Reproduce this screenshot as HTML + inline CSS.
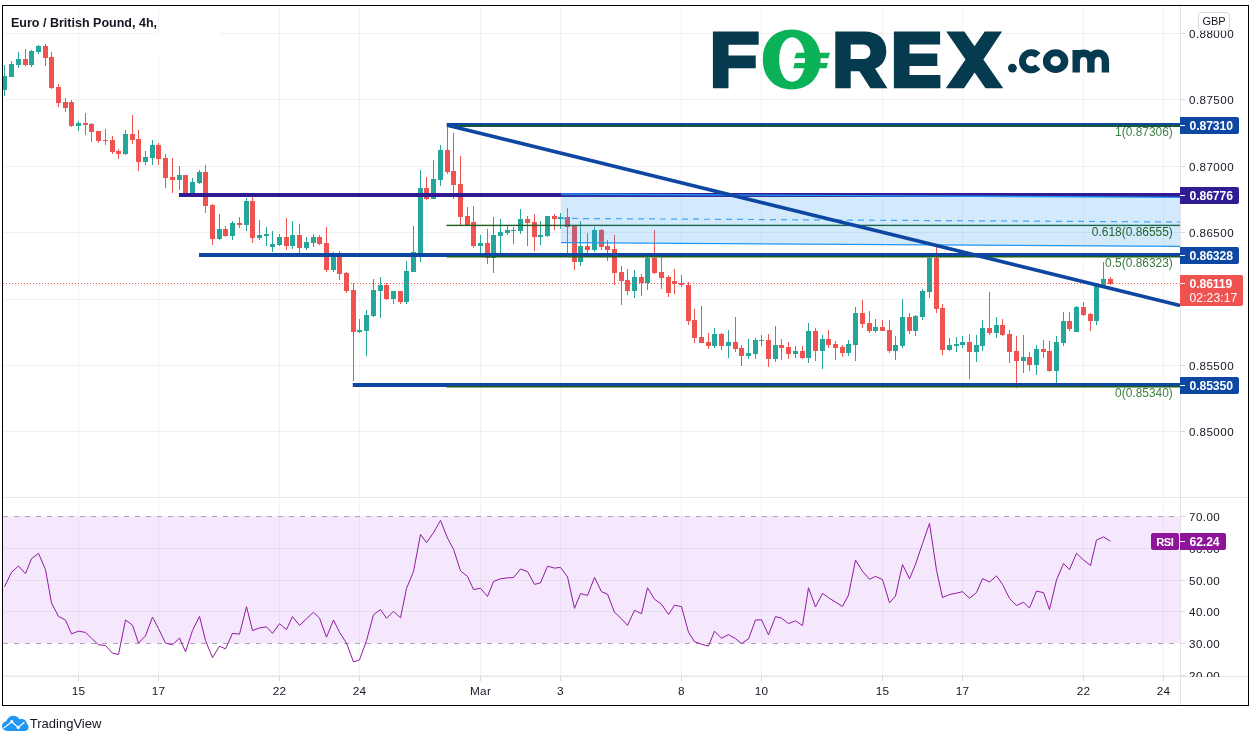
<!DOCTYPE html>
<html><head><meta charset="utf-8"><title>EUR/GBP</title>
<style>
html,body{margin:0;padding:0;background:#fff;}
body{width:1255px;height:742px;position:relative;overflow:hidden;font-family:"Liberation Sans",sans-serif;color:#131722;}
svg{position:absolute;left:0;top:0;}
#txt{position:absolute;left:0;top:0;width:1255px;height:742px;will-change:transform;}
.frame{position:absolute;left:2px;top:5px;width:1245px;height:699px;border:1px solid #000;box-sizing:content-box;}
.t{position:absolute;white-space:nowrap;line-height:1;}
.ax{position:absolute;left:1189px;font-size:11.6px;letter-spacing:0.45px;line-height:12px;color:#131722;white-space:nowrap;}
.dt{position:absolute;top:684.5px;font-size:11.8px;letter-spacing:0.3px;line-height:12px;width:40px;margin-left:-20px;text-align:center;color:#131722;}
.pl{position:absolute;left:1180px;width:59px;height:17px;border-radius:0 2px 2px 0;color:#fff;font-weight:bold;font-size:12.2px;letter-spacing:-0.1px;line-height:17px;box-sizing:border-box;padding-left:9.5px;padding-top:1.3px;white-space:nowrap;overflow:hidden;}
.pl i{position:absolute;left:0;top:8px;width:5px;height:1px;background:#fff;}
.fib{position:absolute;right:82.2px;font-size:11.95px;line-height:12px;white-space:nowrap;}
</style></head><body>
<svg width="1255" height="742" viewBox="0 0 1255 742" shape-rendering="auto">
<rect x="78" y="6" width="1" height="491" fill="rgba(10,10,30,0.05)"/>
<rect x="158" y="6" width="1" height="491" fill="rgba(10,10,30,0.05)"/>
<rect x="279" y="6" width="1" height="491" fill="rgba(10,10,30,0.05)"/>
<rect x="359" y="6" width="1" height="491" fill="rgba(10,10,30,0.05)"/>
<rect x="480" y="6" width="1" height="491" fill="rgba(10,10,30,0.05)"/>
<rect x="560" y="6" width="1" height="491" fill="rgba(10,10,30,0.05)"/>
<rect x="681" y="6" width="1" height="491" fill="rgba(10,10,30,0.05)"/>
<rect x="761" y="6" width="1" height="491" fill="rgba(10,10,30,0.05)"/>
<rect x="882" y="6" width="1" height="491" fill="rgba(10,10,30,0.05)"/>
<rect x="962" y="6" width="1" height="491" fill="rgba(10,10,30,0.05)"/>
<rect x="1083" y="6" width="1" height="491" fill="rgba(10,10,30,0.05)"/>
<rect x="1163" y="6" width="1" height="491" fill="rgba(10,10,30,0.05)"/>
<rect x="3" y="33" width="1177" height="1" fill="rgba(10,10,30,0.06)"/>
<rect x="3" y="99" width="1177" height="1" fill="rgba(10,10,30,0.06)"/>
<rect x="3" y="166" width="1177" height="1" fill="rgba(10,10,30,0.06)"/>
<rect x="3" y="232" width="1177" height="1" fill="rgba(10,10,30,0.06)"/>
<rect x="3" y="299" width="1177" height="1" fill="rgba(10,10,30,0.06)"/>
<rect x="3" y="365" width="1177" height="1" fill="rgba(10,10,30,0.06)"/>
<rect x="3" y="431" width="1177" height="1" fill="rgba(10,10,30,0.06)"/>
<rect x="157" y="33" width="64" height="23" fill="#fff"/>
<rect x="3" y="516.4" width="1177" height="126.8" fill="#f5e8fd"/>
<rect x="3" y="548" width="1177" height="1" fill="rgba(10,10,30,0.06)"/>
<rect x="3" y="580" width="1177" height="1" fill="rgba(10,10,30,0.06)"/>
<rect x="3" y="611" width="1177" height="1" fill="rgba(10,10,30,0.06)"/>
<rect x="3" y="675" width="1177" height="1" fill="rgba(10,10,30,0.06)"/>
<rect x="78" y="498" width="1" height="178" fill="rgba(10,10,30,0.05)"/>
<rect x="158" y="498" width="1" height="178" fill="rgba(10,10,30,0.05)"/>
<rect x="279" y="498" width="1" height="178" fill="rgba(10,10,30,0.05)"/>
<rect x="359" y="498" width="1" height="178" fill="rgba(10,10,30,0.05)"/>
<rect x="480" y="498" width="1" height="178" fill="rgba(10,10,30,0.05)"/>
<rect x="560" y="498" width="1" height="178" fill="rgba(10,10,30,0.05)"/>
<rect x="681" y="498" width="1" height="178" fill="rgba(10,10,30,0.05)"/>
<rect x="761" y="498" width="1" height="178" fill="rgba(10,10,30,0.05)"/>
<rect x="882" y="498" width="1" height="178" fill="rgba(10,10,30,0.05)"/>
<rect x="962" y="498" width="1" height="178" fill="rgba(10,10,30,0.05)"/>
<rect x="1083" y="498" width="1" height="178" fill="rgba(10,10,30,0.05)"/>
<rect x="1163" y="498" width="1" height="178" fill="rgba(10,10,30,0.05)"/>
<line x1="3" y1="516.5" x2="1180" y2="516.5" stroke="#a9a3b3" stroke-width="1" stroke-dasharray="5 6"/>
<line x1="3" y1="643.5" x2="1180" y2="643.5" stroke="#a9a3b3" stroke-width="1" stroke-dasharray="5 6"/>
<rect x="3" y="497" width="1245" height="1" fill="#e6e7eb"/>
<rect x="3" y="676" width="1245" height="1" fill="#e6e7eb"/>
<rect x="1180" y="6" width="1" height="699" fill="#e2e3e8"/>
<rect x="78" y="677" width="1" height="4" fill="#d5d8df"/>
<rect x="158" y="677" width="1" height="4" fill="#d5d8df"/>
<rect x="279" y="677" width="1" height="4" fill="#d5d8df"/>
<rect x="359" y="677" width="1" height="4" fill="#d5d8df"/>
<rect x="480" y="677" width="1" height="4" fill="#d5d8df"/>
<rect x="560" y="677" width="1" height="4" fill="#d5d8df"/>
<rect x="681" y="677" width="1" height="4" fill="#d5d8df"/>
<rect x="761" y="677" width="1" height="4" fill="#d5d8df"/>
<rect x="882" y="677" width="1" height="4" fill="#d5d8df"/>
<rect x="962" y="677" width="1" height="4" fill="#d5d8df"/>
<rect x="1083" y="677" width="1" height="4" fill="#d5d8df"/>
<rect x="1163" y="677" width="1" height="4" fill="#d5d8df"/>
<rect x="1181" y="33" width="4" height="1" fill="#d5d8df"/>
<rect x="1181" y="99" width="4" height="1" fill="#d5d8df"/>
<rect x="1181" y="166" width="4" height="1" fill="#d5d8df"/>
<rect x="1181" y="232" width="4" height="1" fill="#d5d8df"/>
<rect x="1181" y="299" width="4" height="1" fill="#d5d8df"/>
<rect x="1181" y="365" width="4" height="1" fill="#d5d8df"/>
<rect x="1181" y="431" width="4" height="1" fill="#d5d8df"/>
<rect x="1181" y="516" width="4" height="1" fill="#d5d8df"/>
<rect x="1181" y="548" width="4" height="1" fill="#d5d8df"/>
<rect x="1181" y="580" width="4" height="1" fill="#d5d8df"/>
<rect x="1181" y="611" width="4" height="1" fill="#d5d8df"/>
<rect x="1181" y="643" width="4" height="1" fill="#d5d8df"/>
<rect x="1181" y="675" width="4" height="1" fill="#d5d8df"/>
<rect x="4" y="65" width="1" height="31" fill="#26a69a"/>
<rect x="2" y="76" width="5" height="14" fill="#26a69a"/>
<rect x="11" y="61" width="1" height="16" fill="#26a69a"/>
<rect x="9" y="64" width="5" height="13" fill="#26a69a"/>
<rect x="18" y="52" width="1" height="16" fill="#26a69a"/>
<rect x="16" y="59" width="5" height="6" fill="#26a69a"/>
<rect x="25" y="49" width="1" height="17" fill="#ef5350"/>
<rect x="23" y="59" width="5" height="6" fill="#ef5350"/>
<rect x="31" y="50" width="1" height="17" fill="#26a69a"/>
<rect x="29" y="51" width="5" height="14" fill="#26a69a"/>
<rect x="38" y="45" width="1" height="9" fill="#26a69a"/>
<rect x="36" y="46" width="5" height="6" fill="#26a69a"/>
<rect x="45" y="44" width="1" height="22" fill="#ef5350"/>
<rect x="43" y="46" width="5" height="12" fill="#ef5350"/>
<rect x="51" y="52" width="1" height="37" fill="#ef5350"/>
<rect x="49" y="57" width="5" height="31" fill="#ef5350"/>
<rect x="58" y="84" width="1" height="23" fill="#ef5350"/>
<rect x="56" y="87" width="5" height="16" fill="#ef5350"/>
<rect x="65" y="98" width="1" height="14" fill="#ef5350"/>
<rect x="63" y="102" width="5" height="6" fill="#ef5350"/>
<rect x="71" y="100" width="1" height="27" fill="#ef5350"/>
<rect x="69" y="102" width="5" height="24" fill="#ef5350"/>
<rect x="78" y="121" width="1" height="10" fill="#26a69a"/>
<rect x="76" y="123" width="5" height="3" fill="#26a69a"/>
<rect x="85" y="113" width="1" height="22" fill="#ef5350"/>
<rect x="83" y="123" width="5" height="2" fill="#ef5350"/>
<rect x="91" y="123" width="1" height="19" fill="#ef5350"/>
<rect x="89" y="124" width="5" height="8" fill="#ef5350"/>
<rect x="98" y="131" width="1" height="12" fill="#ef5350"/>
<rect x="96" y="131" width="5" height="10" fill="#ef5350"/>
<rect x="105" y="129" width="1" height="16" fill="#ef5350"/>
<rect x="103" y="140" width="5" height="1" fill="#ef5350"/>
<rect x="112" y="136" width="1" height="18" fill="#ef5350"/>
<rect x="110" y="140" width="5" height="12" fill="#ef5350"/>
<rect x="118" y="149" width="1" height="10" fill="#ef5350"/>
<rect x="116" y="151" width="5" height="3" fill="#ef5350"/>
<rect x="125" y="130" width="1" height="25" fill="#26a69a"/>
<rect x="123" y="134" width="5" height="20" fill="#26a69a"/>
<rect x="132" y="115" width="1" height="29" fill="#ef5350"/>
<rect x="130" y="134" width="5" height="6" fill="#ef5350"/>
<rect x="138" y="130" width="1" height="41" fill="#ef5350"/>
<rect x="136" y="139" width="5" height="23" fill="#ef5350"/>
<rect x="145" y="151" width="1" height="14" fill="#26a69a"/>
<rect x="143" y="157" width="5" height="5" fill="#26a69a"/>
<rect x="152" y="140" width="1" height="25" fill="#26a69a"/>
<rect x="150" y="145" width="5" height="13" fill="#26a69a"/>
<rect x="158" y="143" width="1" height="22" fill="#ef5350"/>
<rect x="156" y="145" width="5" height="14" fill="#ef5350"/>
<rect x="165" y="154" width="1" height="34" fill="#ef5350"/>
<rect x="163" y="158" width="5" height="20" fill="#ef5350"/>
<rect x="172" y="158" width="1" height="35" fill="#ef5350"/>
<rect x="170" y="177" width="5" height="3" fill="#ef5350"/>
<rect x="179" y="166" width="1" height="24" fill="#26a69a"/>
<rect x="177" y="175" width="5" height="5" fill="#26a69a"/>
<rect x="185" y="175" width="1" height="20" fill="#ef5350"/>
<rect x="183" y="175" width="5" height="20" fill="#ef5350"/>
<rect x="192" y="178" width="1" height="17" fill="#26a69a"/>
<rect x="190" y="182" width="5" height="13" fill="#26a69a"/>
<rect x="199" y="170" width="1" height="14" fill="#26a69a"/>
<rect x="197" y="172" width="5" height="11" fill="#26a69a"/>
<rect x="205" y="165" width="1" height="48" fill="#ef5350"/>
<rect x="203" y="172" width="5" height="34" fill="#ef5350"/>
<rect x="212" y="204" width="1" height="41" fill="#ef5350"/>
<rect x="210" y="205" width="5" height="34" fill="#ef5350"/>
<rect x="219" y="214" width="1" height="26" fill="#26a69a"/>
<rect x="217" y="229" width="5" height="10" fill="#26a69a"/>
<rect x="225" y="226" width="1" height="11" fill="#ef5350"/>
<rect x="223" y="229" width="5" height="7" fill="#ef5350"/>
<rect x="232" y="221" width="1" height="19" fill="#26a69a"/>
<rect x="230" y="223" width="5" height="13" fill="#26a69a"/>
<rect x="239" y="217" width="1" height="11" fill="#ef5350"/>
<rect x="237" y="223" width="5" height="2" fill="#ef5350"/>
<rect x="246" y="198" width="1" height="33" fill="#26a69a"/>
<rect x="244" y="201" width="5" height="24" fill="#26a69a"/>
<rect x="252" y="197" width="1" height="46" fill="#ef5350"/>
<rect x="250" y="201" width="5" height="37" fill="#ef5350"/>
<rect x="259" y="220" width="1" height="20" fill="#26a69a"/>
<rect x="257" y="235" width="5" height="3" fill="#26a69a"/>
<rect x="266" y="227" width="1" height="19" fill="#26a69a"/>
<rect x="264" y="234" width="5" height="2" fill="#26a69a"/>
<rect x="272" y="231" width="1" height="21" fill="#26a69a"/>
<rect x="270" y="244" width="5" height="3" fill="#26a69a"/>
<rect x="279" y="234" width="1" height="12" fill="#26a69a"/>
<rect x="277" y="237" width="5" height="8" fill="#26a69a"/>
<rect x="286" y="218" width="1" height="32" fill="#ef5350"/>
<rect x="284" y="237" width="5" height="9" fill="#ef5350"/>
<rect x="292" y="221" width="1" height="28" fill="#26a69a"/>
<rect x="290" y="235" width="5" height="11" fill="#26a69a"/>
<rect x="299" y="224" width="1" height="29" fill="#ef5350"/>
<rect x="297" y="235" width="5" height="13" fill="#ef5350"/>
<rect x="306" y="237" width="1" height="13" fill="#26a69a"/>
<rect x="304" y="242" width="5" height="6" fill="#26a69a"/>
<rect x="313" y="234" width="1" height="13" fill="#26a69a"/>
<rect x="311" y="237" width="5" height="6" fill="#26a69a"/>
<rect x="319" y="235" width="1" height="10" fill="#ef5350"/>
<rect x="317" y="237" width="5" height="7" fill="#ef5350"/>
<rect x="326" y="227" width="1" height="45" fill="#ef5350"/>
<rect x="324" y="243" width="5" height="27" fill="#ef5350"/>
<rect x="333" y="252" width="1" height="20" fill="#26a69a"/>
<rect x="331" y="255" width="5" height="15" fill="#26a69a"/>
<rect x="339" y="251" width="1" height="29" fill="#ef5350"/>
<rect x="337" y="255" width="5" height="19" fill="#ef5350"/>
<rect x="346" y="272" width="1" height="21" fill="#ef5350"/>
<rect x="344" y="273" width="5" height="18" fill="#ef5350"/>
<rect x="353" y="283" width="1" height="98" fill="#ef5350"/>
<rect x="351" y="290" width="5" height="42" fill="#ef5350"/>
<rect x="359" y="319" width="1" height="14" fill="#26a69a"/>
<rect x="357" y="330" width="5" height="2" fill="#26a69a"/>
<rect x="366" y="310" width="1" height="46" fill="#26a69a"/>
<rect x="364" y="315" width="5" height="16" fill="#26a69a"/>
<rect x="373" y="279" width="1" height="38" fill="#26a69a"/>
<rect x="371" y="290" width="5" height="26" fill="#26a69a"/>
<rect x="380" y="277" width="1" height="41" fill="#26a69a"/>
<rect x="378" y="285" width="5" height="6" fill="#26a69a"/>
<rect x="386" y="283" width="1" height="17" fill="#ef5350"/>
<rect x="384" y="285" width="5" height="14" fill="#ef5350"/>
<rect x="393" y="291" width="1" height="13" fill="#26a69a"/>
<rect x="391" y="291" width="5" height="8" fill="#26a69a"/>
<rect x="400" y="291" width="1" height="13" fill="#ef5350"/>
<rect x="398" y="291" width="5" height="11" fill="#ef5350"/>
<rect x="406" y="261" width="1" height="43" fill="#26a69a"/>
<rect x="404" y="271" width="5" height="31" fill="#26a69a"/>
<rect x="413" y="226" width="1" height="46" fill="#26a69a"/>
<rect x="411" y="252" width="5" height="20" fill="#26a69a"/>
<rect x="420" y="170" width="1" height="92" fill="#26a69a"/>
<rect x="418" y="188" width="5" height="67" fill="#26a69a"/>
<rect x="426" y="177" width="1" height="23" fill="#ef5350"/>
<rect x="424" y="188" width="5" height="11" fill="#ef5350"/>
<rect x="433" y="160" width="1" height="39" fill="#26a69a"/>
<rect x="431" y="179" width="5" height="20" fill="#26a69a"/>
<rect x="440" y="145" width="1" height="41" fill="#26a69a"/>
<rect x="438" y="150" width="5" height="30" fill="#26a69a"/>
<rect x="447" y="126" width="1" height="48" fill="#ef5350"/>
<rect x="445" y="150" width="5" height="22" fill="#ef5350"/>
<rect x="453" y="133" width="1" height="66" fill="#ef5350"/>
<rect x="451" y="171" width="5" height="14" fill="#ef5350"/>
<rect x="460" y="156" width="1" height="69" fill="#ef5350"/>
<rect x="458" y="184" width="5" height="33" fill="#ef5350"/>
<rect x="467" y="207" width="1" height="18" fill="#ef5350"/>
<rect x="465" y="216" width="5" height="9" fill="#ef5350"/>
<rect x="473" y="206" width="1" height="42" fill="#ef5350"/>
<rect x="471" y="222" width="5" height="24" fill="#ef5350"/>
<rect x="480" y="235" width="1" height="18" fill="#26a69a"/>
<rect x="478" y="243" width="5" height="3" fill="#26a69a"/>
<rect x="487" y="229" width="1" height="35" fill="#ef5350"/>
<rect x="485" y="243" width="5" height="15" fill="#ef5350"/>
<rect x="493" y="217" width="1" height="56" fill="#26a69a"/>
<rect x="491" y="235" width="5" height="23" fill="#26a69a"/>
<rect x="500" y="219" width="1" height="34" fill="#26a69a"/>
<rect x="498" y="232" width="5" height="4" fill="#26a69a"/>
<rect x="507" y="226" width="1" height="9" fill="#26a69a"/>
<rect x="505" y="230" width="5" height="3" fill="#26a69a"/>
<rect x="513" y="227" width="1" height="17" fill="#26a69a"/>
<rect x="511" y="230" width="5" height="1" fill="#26a69a"/>
<rect x="520" y="209" width="1" height="25" fill="#26a69a"/>
<rect x="518" y="219" width="5" height="12" fill="#26a69a"/>
<rect x="527" y="216" width="1" height="30" fill="#ef5350"/>
<rect x="525" y="219" width="5" height="4" fill="#ef5350"/>
<rect x="534" y="214" width="1" height="37" fill="#ef5350"/>
<rect x="532" y="222" width="5" height="15" fill="#ef5350"/>
<rect x="540" y="221" width="1" height="24" fill="#26a69a"/>
<rect x="538" y="235" width="5" height="2" fill="#26a69a"/>
<rect x="547" y="216" width="1" height="21" fill="#26a69a"/>
<rect x="545" y="216" width="5" height="20" fill="#26a69a"/>
<rect x="554" y="214" width="1" height="16" fill="#ef5350"/>
<rect x="552" y="216" width="5" height="3" fill="#ef5350"/>
<rect x="560" y="213" width="1" height="16" fill="#26a69a"/>
<rect x="558" y="217" width="5" height="2" fill="#26a69a"/>
<rect x="567" y="208" width="1" height="45" fill="#ef5350"/>
<rect x="565" y="217" width="5" height="10" fill="#ef5350"/>
<rect x="574" y="226" width="1" height="44" fill="#ef5350"/>
<rect x="572" y="226" width="5" height="36" fill="#ef5350"/>
<rect x="580" y="221" width="1" height="45" fill="#26a69a"/>
<rect x="578" y="246" width="5" height="16" fill="#26a69a"/>
<rect x="587" y="233" width="1" height="20" fill="#ef5350"/>
<rect x="585" y="246" width="5" height="4" fill="#ef5350"/>
<rect x="594" y="227" width="1" height="25" fill="#26a69a"/>
<rect x="592" y="230" width="5" height="20" fill="#26a69a"/>
<rect x="601" y="229" width="1" height="21" fill="#ef5350"/>
<rect x="599" y="230" width="5" height="17" fill="#ef5350"/>
<rect x="607" y="240" width="1" height="21" fill="#ef5350"/>
<rect x="605" y="246" width="5" height="4" fill="#ef5350"/>
<rect x="614" y="235" width="1" height="50" fill="#ef5350"/>
<rect x="612" y="249" width="5" height="24" fill="#ef5350"/>
<rect x="621" y="266" width="1" height="39" fill="#ef5350"/>
<rect x="619" y="272" width="5" height="9" fill="#ef5350"/>
<rect x="627" y="269" width="1" height="26" fill="#ef5350"/>
<rect x="625" y="280" width="5" height="11" fill="#ef5350"/>
<rect x="634" y="270" width="1" height="28" fill="#26a69a"/>
<rect x="632" y="277" width="5" height="14" fill="#26a69a"/>
<rect x="641" y="274" width="1" height="22" fill="#ef5350"/>
<rect x="639" y="277" width="5" height="6" fill="#ef5350"/>
<rect x="647" y="257" width="1" height="33" fill="#26a69a"/>
<rect x="645" y="258" width="5" height="25" fill="#26a69a"/>
<rect x="654" y="230" width="1" height="44" fill="#ef5350"/>
<rect x="652" y="258" width="5" height="15" fill="#ef5350"/>
<rect x="661" y="257" width="1" height="32" fill="#ef5350"/>
<rect x="659" y="272" width="5" height="6" fill="#ef5350"/>
<rect x="668" y="275" width="1" height="22" fill="#ef5350"/>
<rect x="666" y="277" width="5" height="16" fill="#ef5350"/>
<rect x="674" y="269" width="1" height="25" fill="#ef5350"/>
<rect x="672" y="281" width="5" height="3" fill="#ef5350"/>
<rect x="681" y="275" width="1" height="12" fill="#ef5350"/>
<rect x="679" y="283" width="5" height="2" fill="#ef5350"/>
<rect x="688" y="282" width="1" height="43" fill="#ef5350"/>
<rect x="686" y="285" width="5" height="36" fill="#ef5350"/>
<rect x="694" y="309" width="1" height="34" fill="#ef5350"/>
<rect x="692" y="320" width="5" height="18" fill="#ef5350"/>
<rect x="701" y="306" width="1" height="37" fill="#ef5350"/>
<rect x="699" y="337" width="5" height="6" fill="#ef5350"/>
<rect x="708" y="333" width="1" height="16" fill="#ef5350"/>
<rect x="706" y="342" width="5" height="4" fill="#ef5350"/>
<rect x="714" y="328" width="1" height="20" fill="#26a69a"/>
<rect x="712" y="334" width="5" height="12" fill="#26a69a"/>
<rect x="721" y="333" width="1" height="17" fill="#ef5350"/>
<rect x="719" y="334" width="5" height="12" fill="#ef5350"/>
<rect x="728" y="330" width="1" height="28" fill="#26a69a"/>
<rect x="726" y="342" width="5" height="4" fill="#26a69a"/>
<rect x="735" y="317" width="1" height="35" fill="#ef5350"/>
<rect x="733" y="342" width="5" height="7" fill="#ef5350"/>
<rect x="741" y="345" width="1" height="21" fill="#ef5350"/>
<rect x="739" y="348" width="5" height="8" fill="#ef5350"/>
<rect x="748" y="339" width="1" height="20" fill="#26a69a"/>
<rect x="746" y="353" width="5" height="3" fill="#26a69a"/>
<rect x="755" y="338" width="1" height="21" fill="#26a69a"/>
<rect x="753" y="340" width="5" height="14" fill="#26a69a"/>
<rect x="761" y="335" width="1" height="11" fill="#26a69a"/>
<rect x="759" y="340" width="5" height="1" fill="#26a69a"/>
<rect x="768" y="334" width="1" height="33" fill="#ef5350"/>
<rect x="766" y="340" width="5" height="19" fill="#ef5350"/>
<rect x="775" y="326" width="1" height="36" fill="#26a69a"/>
<rect x="773" y="345" width="5" height="14" fill="#26a69a"/>
<rect x="781" y="339" width="1" height="21" fill="#ef5350"/>
<rect x="779" y="345" width="5" height="3" fill="#ef5350"/>
<rect x="788" y="342" width="1" height="17" fill="#ef5350"/>
<rect x="786" y="347" width="5" height="7" fill="#ef5350"/>
<rect x="795" y="346" width="1" height="12" fill="#26a69a"/>
<rect x="793" y="351" width="5" height="3" fill="#26a69a"/>
<rect x="802" y="346" width="1" height="13" fill="#ef5350"/>
<rect x="800" y="351" width="5" height="7" fill="#ef5350"/>
<rect x="808" y="323" width="1" height="40" fill="#26a69a"/>
<rect x="806" y="331" width="5" height="27" fill="#26a69a"/>
<rect x="815" y="328" width="1" height="33" fill="#ef5350"/>
<rect x="813" y="331" width="5" height="20" fill="#ef5350"/>
<rect x="822" y="335" width="1" height="34" fill="#26a69a"/>
<rect x="820" y="339" width="5" height="12" fill="#26a69a"/>
<rect x="828" y="330" width="1" height="18" fill="#ef5350"/>
<rect x="826" y="339" width="5" height="6" fill="#ef5350"/>
<rect x="835" y="341" width="1" height="19" fill="#ef5350"/>
<rect x="833" y="344" width="5" height="4" fill="#ef5350"/>
<rect x="842" y="345" width="1" height="12" fill="#ef5350"/>
<rect x="840" y="347" width="5" height="6" fill="#ef5350"/>
<rect x="848" y="340" width="1" height="16" fill="#26a69a"/>
<rect x="846" y="344" width="5" height="9" fill="#26a69a"/>
<rect x="855" y="307" width="1" height="54" fill="#26a69a"/>
<rect x="853" y="313" width="5" height="32" fill="#26a69a"/>
<rect x="862" y="300" width="1" height="28" fill="#ef5350"/>
<rect x="860" y="313" width="5" height="11" fill="#ef5350"/>
<rect x="869" y="311" width="1" height="22" fill="#ef5350"/>
<rect x="867" y="323" width="5" height="8" fill="#ef5350"/>
<rect x="875" y="319" width="1" height="14" fill="#26a69a"/>
<rect x="873" y="327" width="5" height="4" fill="#26a69a"/>
<rect x="882" y="320" width="1" height="11" fill="#ef5350"/>
<rect x="880" y="327" width="5" height="4" fill="#ef5350"/>
<rect x="889" y="320" width="1" height="33" fill="#ef5350"/>
<rect x="887" y="330" width="5" height="21" fill="#ef5350"/>
<rect x="895" y="336" width="1" height="24" fill="#26a69a"/>
<rect x="893" y="345" width="5" height="6" fill="#26a69a"/>
<rect x="902" y="299" width="1" height="49" fill="#26a69a"/>
<rect x="900" y="317" width="5" height="29" fill="#26a69a"/>
<rect x="909" y="313" width="1" height="21" fill="#ef5350"/>
<rect x="907" y="317" width="5" height="14" fill="#ef5350"/>
<rect x="915" y="315" width="1" height="21" fill="#26a69a"/>
<rect x="913" y="316" width="5" height="15" fill="#26a69a"/>
<rect x="922" y="289" width="1" height="31" fill="#26a69a"/>
<rect x="920" y="291" width="5" height="26" fill="#26a69a"/>
<rect x="929" y="257" width="1" height="41" fill="#26a69a"/>
<rect x="927" y="258" width="5" height="34" fill="#26a69a"/>
<rect x="936" y="247" width="1" height="66" fill="#ef5350"/>
<rect x="934" y="258" width="5" height="51" fill="#ef5350"/>
<rect x="942" y="304" width="1" height="51" fill="#ef5350"/>
<rect x="940" y="308" width="5" height="42" fill="#ef5350"/>
<rect x="949" y="338" width="1" height="13" fill="#26a69a"/>
<rect x="947" y="345" width="5" height="5" fill="#26a69a"/>
<rect x="956" y="337" width="1" height="15" fill="#26a69a"/>
<rect x="954" y="344" width="5" height="2" fill="#26a69a"/>
<rect x="962" y="336" width="1" height="12" fill="#26a69a"/>
<rect x="960" y="342" width="5" height="3" fill="#26a69a"/>
<rect x="969" y="334" width="1" height="45" fill="#ef5350"/>
<rect x="967" y="342" width="5" height="10" fill="#ef5350"/>
<rect x="976" y="335" width="1" height="27" fill="#26a69a"/>
<rect x="974" y="345" width="5" height="7" fill="#26a69a"/>
<rect x="982" y="320" width="1" height="31" fill="#26a69a"/>
<rect x="980" y="328" width="5" height="18" fill="#26a69a"/>
<rect x="989" y="292" width="1" height="43" fill="#ef5350"/>
<rect x="987" y="328" width="5" height="5" fill="#ef5350"/>
<rect x="996" y="317" width="1" height="21" fill="#26a69a"/>
<rect x="994" y="325" width="5" height="8" fill="#26a69a"/>
<rect x="1002" y="319" width="1" height="17" fill="#ef5350"/>
<rect x="1000" y="325" width="5" height="10" fill="#ef5350"/>
<rect x="1009" y="330" width="1" height="33" fill="#ef5350"/>
<rect x="1007" y="334" width="5" height="18" fill="#ef5350"/>
<rect x="1016" y="336" width="1" height="52" fill="#ef5350"/>
<rect x="1014" y="351" width="5" height="10" fill="#ef5350"/>
<rect x="1023" y="335" width="1" height="38" fill="#26a69a"/>
<rect x="1021" y="357" width="5" height="4" fill="#26a69a"/>
<rect x="1029" y="352" width="1" height="19" fill="#ef5350"/>
<rect x="1027" y="357" width="5" height="8" fill="#ef5350"/>
<rect x="1036" y="345" width="1" height="30" fill="#26a69a"/>
<rect x="1034" y="349" width="5" height="16" fill="#26a69a"/>
<rect x="1043" y="340" width="1" height="18" fill="#ef5350"/>
<rect x="1041" y="349" width="5" height="3" fill="#ef5350"/>
<rect x="1049" y="341" width="1" height="31" fill="#ef5350"/>
<rect x="1047" y="351" width="5" height="20" fill="#ef5350"/>
<rect x="1056" y="336" width="1" height="47" fill="#26a69a"/>
<rect x="1054" y="342" width="5" height="29" fill="#26a69a"/>
<rect x="1063" y="312" width="1" height="34" fill="#26a69a"/>
<rect x="1061" y="321" width="5" height="22" fill="#26a69a"/>
<rect x="1069" y="312" width="1" height="19" fill="#ef5350"/>
<rect x="1067" y="321" width="5" height="8" fill="#ef5350"/>
<rect x="1076" y="306" width="1" height="26" fill="#26a69a"/>
<rect x="1074" y="307" width="5" height="25" fill="#26a69a"/>
<rect x="1083" y="302" width="1" height="14" fill="#ef5350"/>
<rect x="1081" y="307" width="5" height="8" fill="#ef5350"/>
<rect x="1090" y="313" width="1" height="18" fill="#ef5350"/>
<rect x="1088" y="314" width="5" height="7" fill="#ef5350"/>
<rect x="1096" y="283" width="1" height="42" fill="#26a69a"/>
<rect x="1094" y="285" width="5" height="36" fill="#26a69a"/>
<rect x="1103" y="262" width="1" height="23" fill="#26a69a"/>
<rect x="1101" y="279" width="5" height="6" fill="#26a69a"/>
<rect x="1110" y="277" width="1" height="8" fill="#ef5350"/>
<rect x="1108" y="279" width="5" height="5" fill="#ef5350"/>
<line x1="3" y1="283.5" x2="1180" y2="283.5" stroke="#ef5350" stroke-width="1" stroke-dasharray="1 2"/>
<rect x="446.5" y="224.7" width="733.5" height="1.4" fill="#1b5e20"/>
<rect x="446.7" y="123" width="733.3" height="4" fill="#0d47a1"/>
<rect x="454" y="125" width="726" height="1.6" fill="#1b5e20"/>
<rect x="179" y="193" width="1001" height="4" fill="#311b92"/>
<rect x="199" y="253" width="981" height="4" fill="#0d47a1"/>
<rect x="446.5" y="256" width="733.5" height="1.5" fill="#1b5e20"/>
<rect x="352.8" y="383" width="827.2" height="4" fill="#0d47a1"/>
<rect x="446.5" y="386" width="733.5" height="1.5" fill="#1b5e20"/>
<polygon points="561,194 1180,197.4 1180,246.4 561,242.6" fill="rgba(33,150,243,0.2)"/>
<line x1="561" y1="194" x2="1180" y2="197.4" stroke="#2196f3" stroke-width="1.3"/>
<line x1="561" y1="242.6" x2="1180" y2="246.4" stroke="#2196f3" stroke-width="1.3"/>
<line x1="561" y1="218.4" x2="1180" y2="222" stroke="#42a5f5" stroke-width="1.2" stroke-dasharray="6 5"/>
<line x1="447.5" y1="125.2" x2="1180" y2="305.4" stroke="#0d47a1" stroke-width="3.6"/>
<polyline points="4.5,586.8 11.5,572.3 18.5,566.0 25.5,573.7 31.5,558.7 38.5,553.3 45.5,569.6 51.5,603.0 58.5,616.4 65.5,620.0 71.5,633.9 78.5,631.2 85.5,632.4 91.5,638.2 98.5,644.8 105.5,645.5 112.5,653.2 118.5,654.5 125.5,620.0 132.5,625.1 138.5,643.1 145.5,635.8 152.5,617.1 158.5,628.5 165.5,643.1 172.5,644.8 179.5,638.0 185.5,651.8 192.5,630.5 199.5,616.4 205.5,640.6 212.5,657.6 219.5,646.2 225.5,648.9 232.5,633.4 239.5,634.1 246.5,606.7 252.5,630.5 259.5,628.0 266.5,626.8 272.5,633.4 279.5,623.7 286.5,629.5 292.5,616.6 299.5,625.4 306.5,618.8 313.5,612.3 319.5,618.1 326.5,637.2 333.5,620.0 339.5,632.2 346.5,643.1 353.5,662.0 359.5,659.8 366.5,640.6 373.5,614.7 380.5,609.6 386.5,618.3 393.5,611.3 400.5,617.8 406.5,588.5 413.5,571.5 420.5,534.4 426.5,542.7 433.5,532.7 440.5,520.4 447.5,538.1 453.5,549.2 460.5,570.8 467.5,576.4 473.5,589.5 480.5,588.3 487.5,596.5 493.5,581.5 500.5,578.8 507.5,577.8 513.5,577.6 520.5,569.1 527.5,571.5 534.5,584.4 540.5,582.9 547.5,566.2 554.5,568.1 560.5,567.4 567.5,576.9 574.5,608.4 580.5,593.6 587.5,595.5 594.5,577.4 601.5,591.7 607.5,594.1 614.5,612.3 621.5,618.8 627.5,625.4 634.5,610.3 641.5,613.7 647.5,587.8 654.5,599.2 661.5,604.3 668.5,614.5 674.5,605.2 681.5,606.7 688.5,632.2 694.5,641.6 701.5,644.3 708.5,646.0 714.5,631.2 721.5,638.2 728.5,634.6 735.5,638.7 741.5,643.5 748.5,638.9 755.5,620.0 761.5,619.8 768.5,634.8 775.5,616.6 781.5,618.1 788.5,623.7 795.5,620.8 802.5,625.6 808.5,587.8 815.5,606.9 822.5,593.4 828.5,597.7 835.5,602.1 842.5,606.4 848.5,595.0 855.5,560.1 862.5,571.3 869.5,579.3 875.5,576.4 882.5,579.5 889.5,602.8 895.5,596.0 902.5,564.5 909.5,578.8 915.5,564.3 922.5,543.6 929.5,523.3 936.5,570.3 942.5,597.5 949.5,594.6 956.5,593.1 962.5,591.7 969.5,598.2 976.5,592.6 982.5,578.6 989.5,582.0 996.5,575.9 1002.5,584.4 1009.5,598.4 1016.5,605.5 1023.5,602.3 1029.5,607.9 1036.5,591.2 1043.5,592.6 1049.5,609.6 1056.5,580.0 1063.5,563.5 1069.5,569.6 1076.5,553.3 1083.5,559.9 1090.5,565.5 1096.5,540.0 1103.5,536.9 1110.5,541.2" fill="none" stroke="#911ba0" stroke-width="1" stroke-linejoin="round"/>
<path fill="#063a4f" d="M712.9,31.4 H758.7 V44.7 H728.5 V55.6 H755.7 V68.2 H728.5 V88.3 H712.9 Z"/>
<path fill="#0cb258" fill-rule="evenodd" d="M762.80,59.50 C762.80,41.56 774.36,29.60 791.70,29.60 C809.04,29.60 820.60,41.56 820.60,59.50 C820.60,77.44 809.04,89.40 791.70,89.40 C774.36,89.40 762.80,77.44 762.80,59.50 Z M779.20,59.50 C779.20,46.57 784.62,37.20 792.10,37.20 C799.58,37.20 805.00,46.57 805.00,59.50 C805.00,72.43 799.58,81.80 792.10,81.80 C784.62,81.80 779.20,72.43 779.20,59.50 Z"/>
<polygon fill="#0cb258" points="796.3,52.7 829.9,52.7 828.4,58.3 794.3,58.3"/>
<polygon fill="#0cb258" points="794.6,62.9 827.9,62.9 826.6,68.2 793.3,68.2"/>
<path fill="#063a4f" fill-rule="evenodd" d="M835.3,31.4 H864 C878,31.4 886.3,39 886.3,51 C886.3,60 882,66 875,68.5 L887.4,88.3 H870.4 L859.5,71.2 H850.7 V88.3 H835.3 Z M850.7,44.4 H862 C867.5,44.4 870.4,47 870.4,51.7 C870.4,56.4 867.5,59.1 862,59.1 H850.7 Z"/>
<path fill="#063a4f" d="M893.9,31.4 H940.1 V44.4 H909.5 V53.5 H937.3 V65.9 H909.5 V75 H940.4 V88.3 H893.9 Z"/>
<path fill="#063a4f" d="M946.2,31.4 H964.3 L974.5,46.3 L984.7,31.4 H1002.1 L983.4,59.4 L1003.3,88.3 H985.5 L974.6,72.5 L964,88.3 H945.8 L965.5,59.5 Z"/>
<circle cx="1012.4" cy="68.1" r="4.4" fill="#063a4f"/>
<path fill="#063a4f" fill-rule="evenodd" d="M1042.9,61.2 a12.7,11.9 0 1,0 25.4,0 a12.7,11.9 0 1,0 -25.4,0 Z M1050.4,61.2 a5.2,4.9 0 1,0 10.4,0 a5.2,4.9 0 1,0 -10.4,0 Z"/>
<path fill="none" stroke="#063a4f" stroke-width="6.9" d="M1037.88,55.45 A8.86,8.6 0 1,0 1037.88,66.95"/>
<path fill="none" stroke="#063a4f" stroke-width="7.4" d="M1076.2,72.5 V50 M1076.2,62 C1076.2,56 1079,53.2 1083.5,53.2 C1088,53.2 1090.9,56 1090.9,62 V72.5 M1090.9,62 C1090.9,56 1093.7,53.2 1098.2,53.2 C1102.7,53.2 1105.4,56 1105.4,62 V72.5"/>
<g transform="translate(2,715.5)"><path fill="#2196f3" d="M5.5,15.5 C2,15.5 0,13.2 0,10.6 C0,8 1.9,6 4.4,5.7 C5.3,2.4 8.2,0.2 11.3,0.2 C14,0.2 16.3,1.6 17.5,3.8 C18.2,3.5 18.9,3.4 19.6,3.4 C22.6,3.4 24.8,5.6 24.9,8.5 C26,9.2 26.6,10.4 26.6,11.7 C26.6,13.9 24.9,15.5 22.8,15.5 Z"/><polyline points="1.3,12.9 9.8,6.2 16.2,12 22.4,6.7" fill="none" stroke="#fff" stroke-width="1.2"/><circle cx="9.8" cy="6.2" r="1.6" fill="#fff"/><circle cx="16.2" cy="12" r="1.6" fill="#fff"/></g>
</svg>
<div class="frame"></div>
<div id="txt">
<div class="t" id="title" style="left:11px;top:17px;font-size:12.53px;font-weight:bold;color:#131722;">Euro / British Pound, 4h,</div>
<div class="t" id="tv" style="left:29.8px;top:717.3px;font-size:13px;color:#131722;">TradingView</div>
<div class="t" id="gbp" style="z-index:3;left:1198px;top:12px;width:30px;height:16.5px;border:1px solid #d6d9e2;border-radius:4px;background:#fff;font-size:11px;line-height:17px;text-align:center;">GBP</div>
<div class="ax" style="top:27.5px">0.88000</div>
<div class="ax" style="top:93.5px">0.87500</div>
<div class="ax" style="top:160.5px">0.87000</div>
<div class="ax" style="top:226.5px">0.86500</div>
<div class="ax" style="top:359.5px">0.85500</div>
<div class="ax" style="top:425.5px">0.85000</div>
<div class="ax" style="top:510.5px">70.00</div>
<div class="ax" style="top:542.5px">60.00</div>
<div class="ax" style="top:574.5px">50.00</div>
<div class="ax" style="top:605.5px">40.00</div>
<div class="ax" style="top:637.5px">30.00</div>
<div class="ax" style="top:669.5px;height:7.2px;overflow:hidden">20.00</div>
<div class="pl" style="top:117px;background:#0d47a1"><i></i>0.87310</div>
<div class="pl" style="top:187px;background:#311b92"><i></i>0.86776</div>
<div class="pl" style="top:247px;background:#0d47a1"><i></i>0.86328</div>
<div class="pl" style="top:377px;background:#0d47a1"><i></i>0.85350</div>
<div class="pl" style="top:275px;height:31px;width:63px;background:#ef5350;line-height:14.4px;padding-top:2.3px"><i></i>0.86119<br><span style="font-weight:normal;letter-spacing:0.05px;position:relative;top:-0.5px">02:23:17</span></div>
<div class="pl" style="top:533px;left:1151px;width:27.7px;height:17px;line-height:17px;background:#8e1599;border-radius:2px;padding-left:0;text-align:center;font-size:11.2px;letter-spacing:-0.5px;">RSI</div>
<div class="pl" style="top:533px;left:1180px;width:46px;height:17px;line-height:17px;background:#8e1599;"><i></i>62.24</div>
<div class="fib" style="top:125.8px;color:#3f8344">1(0.87306)</div>
<div class="fib" style="top:225.8px;color:#25642b">0.618(0.86555)</div>
<div class="fib" style="top:257.3px;color:#37793c">0.5(0.86323)</div>
<div class="fib" style="top:387px;color:#3f8344">0(0.85340)</div>
<div class="dt" style="left:78.5px">15</div>
<div class="dt" style="left:158.5px">17</div>
<div class="dt" style="left:279.5px">22</div>
<div class="dt" style="left:359.5px">24</div>
<div class="dt" style="left:480.5px">Mar</div>
<div class="dt" style="left:560.5px">3</div>
<div class="dt" style="left:681.5px">8</div>
<div class="dt" style="left:761.5px">10</div>
<div class="dt" style="left:882.5px">15</div>
<div class="dt" style="left:962.5px">17</div>
<div class="dt" style="left:1083.5px">22</div>
<div class="dt" style="left:1163.5px">24</div>
</div>
</body></html>
